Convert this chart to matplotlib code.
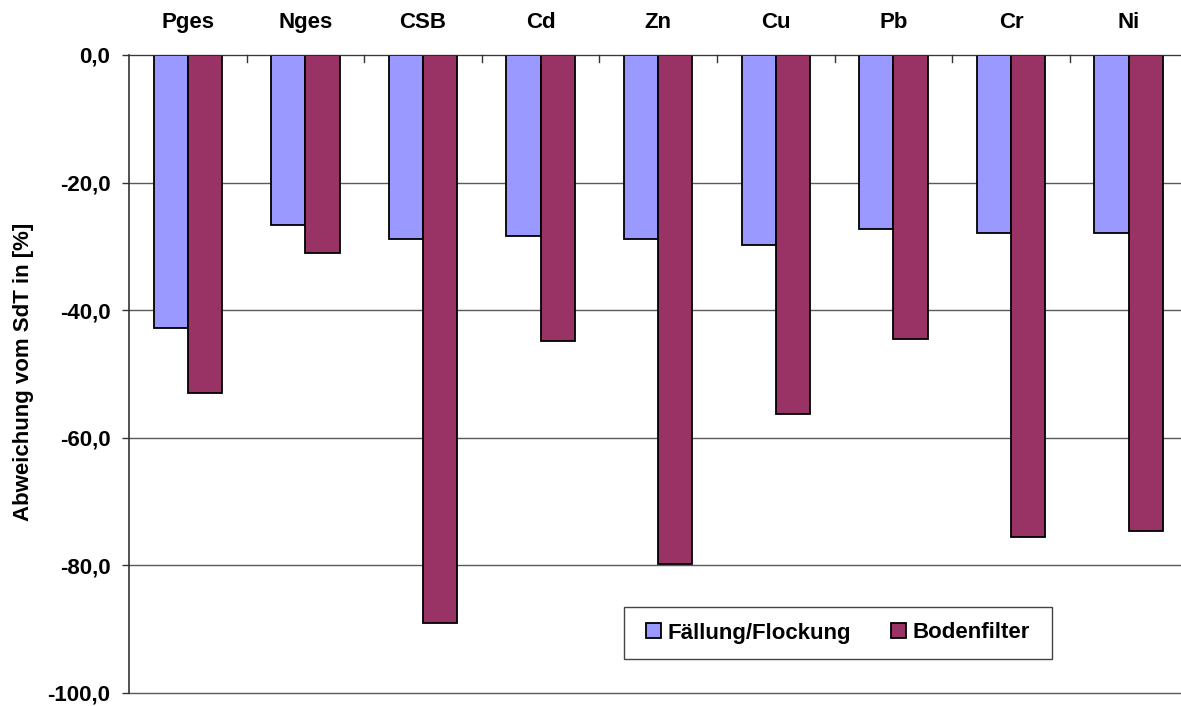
import matplotlib
matplotlib.use("Agg")
import matplotlib.pyplot as plt
import matplotlib.transforms as mtransforms
from matplotlib.patches import Rectangle
import numpy as np

categories = ["Pges", "Nges", "CSB", "Cd", "Zn", "Cu", "Pb", "Cr", "Ni"]
faellung = [-42.8, -26.6, -28.8, -28.3, -28.8, -29.8, -27.2, -27.9, -27.9]
bodenfilter = [-53.0, -31.0, -89.0, -44.8, -79.8, -56.3, -44.5, -75.5, -74.6]
series_names = ["Fällung/Flockung", "Bodenfilter"]
yticks = [0, -20, -40, -60, -80, -100]

plt.rcParams["font.family"] = ["Liberation Sans", "DejaVu Sans"]
plt.rcParams["font.weight"] = "bold"
FS = 16

W, H = 1181, 706
fig = plt.figure(figsize=(W / 100, H / 100), dpi=100)
left, right, top, bottom = 129, 1181, 55, 693
cat_w = 117.6
ax = fig.add_axes([left / W, 1 - bottom / H, (right - left) / W, (bottom - top) / H])

x = np.arange(len(categories))
w = 0.29
ax.bar(x - w / 2, faellung, w, color="#9999FF", edgecolor="black", linewidth=1.3,
       label=series_names[0], zorder=3)
ax.bar(x + w / 2, bodenfilter, w, color="#993366", edgecolor="black", linewidth=1.3,
       label=series_names[1], zorder=3)

ax.set_xlim(-0.5, -0.5 + (right - left) / cat_w)
ax.set_ylim(-100, 0)
ax.set_yticks(yticks)
ax.set_yticklabels([f"{v:.1f}".replace(".", ",") for v in yticks], fontsize=FS,
                   fontweight="bold")
for v in yticks:
    ax.axhline(v, color="#5a5a5a", linewidth=1.0, zorder=1, clip_on=False)

# category labels sit above the zero line
ax.set_xticks([])
label_tf = mtransforms.blended_transform_factory(ax.transData, fig.transFigure)
for i, c in enumerate(categories):
    ax.text(i, 1 - 28 / H, c, transform=label_tf, ha="center", va="baseline",
            fontsize=FS, fontweight="bold")
# category separators on the zero line
for b in np.arange(0.5, len(categories) - 0.5, 1.0):
    ax.plot([b, b], [0, -1.1], color="#333333", linewidth=1.0, zorder=4, clip_on=False)

for s in ["top", "right", "bottom"]:
    ax.spines[s].set_visible(False)
ax.spines["left"].set_color("#333333")
ax.spines["left"].set_linewidth(1.2)
ax.axhline(0, color="#333333", linewidth=1.2, zorder=4)
ax.tick_params(axis="y", length=5, width=1.0, color="#333333", pad=8.4)

fig.text(24 / W, 1 - 371.5 / H, "Abweichung vom SdT in [%]", rotation=90,
         ha="center", va="center", fontsize=FS, fontweight="bold")

# legend box
bx0, bx1, by0, by1 = 624, 1052, 607, 659
fig.patches.append(Rectangle((bx0 / W, 1 - by1 / H), (bx1 - bx0) / W, (by1 - by0) / H,
                             transform=fig.transFigure, facecolor="white",
                             edgecolor="#444444", linewidth=1.0, zorder=5))
leg = fig.legend(loc="center", bbox_to_anchor=((bx0 + bx1) / 2 / W, 1 - (by0 + by1) / 2 / H),
                 ncol=2, frameon=False, fontsize=FS,
                 handlelength=0.68, handleheight=0.68, handletextpad=0.3,
                 columnspacing=1.8, borderpad=0.0)
leg.set_zorder(6)
for t in leg.get_texts():
    t.set_fontweight("bold")

fig.savefig("out.png", dpi=100)
